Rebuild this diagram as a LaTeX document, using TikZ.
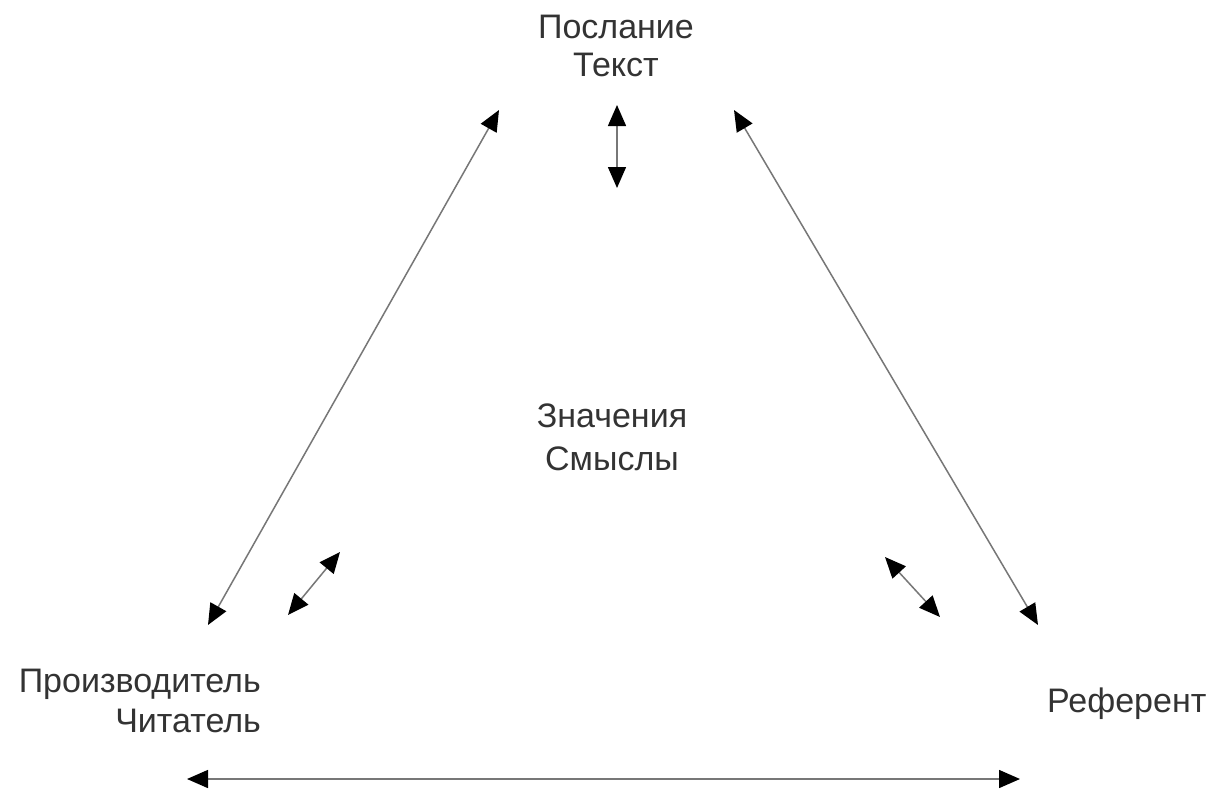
\documentclass[tikz,border=0pt]{standalone}
\usepackage{fontspec}
\setmainfont{Liberation Sans}
\usetikzlibrary{arrows.meta}
\definecolor{txt}{HTML}{333333}
\definecolor{ln}{HTML}{777777}
\tikzset{
  lbl/.style={text=txt, inner sep=0pt, font=\fontsize{34}{37}\selectfont},
  rel/.style={draw=ln, line width=1.5pt, {Triangle[length=21pt,width=18pt,color=black]}-{Triangle[length=21pt,width=18pt,color=black]}},
}
\begin{document}
\begin{tikzpicture}[x=1pt,y=-1pt]
\useasboundingbox[fill=white] (0,0) rectangle (1214,792);
% labels (anchor base = baseline of the last line)
\node[lbl, anchor=base, align=center] (msg) at (616,76) {Послание\\Текст};
\node[lbl, anchor=base, align=center] (mean) at (612,470) {Значения\\[6pt]Смыслы};
\node[lbl, anchor=base east, align=right] (prod) at (261,732) {Производитель\\[3pt]Читатель};
\node[lbl, anchor=base west] (ref) at (1047,712) {Референт};
% arrow end points
\coordinate (v1) at (617,105);
\coordinate (v2) at (617,188);
\coordinate (l1) at (499,110);
\coordinate (l2) at (208,625);
\coordinate (r1) at (734,110);
\coordinate (r2) at (1038,625);
\coordinate (sl1) at (340,552);
\coordinate (sl2) at (288,615);
\coordinate (sr1) at (885,557);
\coordinate (sr2) at (940,617);
\coordinate (b1) at (187,779);
\coordinate (b2) at (1020,779);
% connectors
\draw[rel] (v1) -- (v2);
\draw[rel] (l1) -- (l2);
\draw[rel] (r1) -- (r2);
\draw[rel] (sl1) -- (sl2);
\draw[rel] (sr1) -- (sr2);
\draw[rel] (b1) -- (b2);
\end{tikzpicture}
\end{document}
